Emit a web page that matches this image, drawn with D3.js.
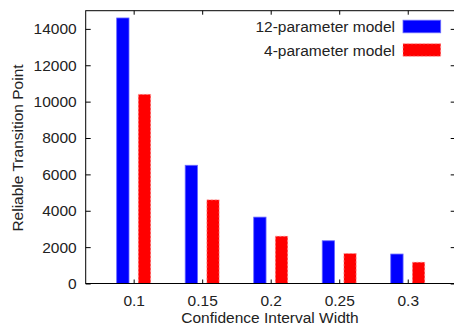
<!DOCTYPE html>
<html>
<head>
<meta charset="utf-8">
<script src="https://cdn.jsdelivr.net/npm/d3@7/dist/d3.min.js"></script>
<style>
  html, body { margin: 0; padding: 0; background: #fff; }
  svg { display: block; }
  text { font-family: "Liberation Sans", Arial, Helvetica, sans-serif; fill: #222; }
</style>
</head>
<body>
<svg id="chart" width="454" height="327"></svg>
<script>
// Confidence interval widths on the x axis
const categories = ["0.1", "0.15", "0.2", "0.25", "0.3"];
// Reliable transition point for each model
const series12 = [14600, 6500, 3650, 2350, 1620];
const series4 = [10400, 4600, 2600, 1650, 1170];
const seriesNames = ["12-parameter model", "4-parameter model"];
const yTicks = [0, 2000, 4000, 6000, 8000, 10000, 12000, 14000];

const plotLeft = 85.7, plotRight = 455.7, plotTop = 10.7, plotBottom = 283.5;
const fontSize = 15.5;

const svg = d3.select("#chart");

// Categories sit at integer positions, gnuplot-histogram style
const x = d3.scaleLinear().domain([-0.7, categories.length - 0.3]).range([plotLeft, plotRight]);
const y = d3.scaleLinear().domain([0, 15000]).range([plotBottom, plotTop]);

const barGap = 0.068, barW = 0.18;

const seriesList = [
  { name: seriesNames[0], values: series12, color: "#0000ff", x0: i => x(i - barGap - barW), x1: i => x(i - barGap) },
  { name: seriesNames[1], values: series4, color: "#ff0000", x0: i => x(i + barGap), x1: i => x(i + barGap + barW) }
];

// Bars
seriesList.forEach((s, k) => {
  const g = svg.append("g");
  g.selectAll("rect")
    .data(s.values)
    .join("rect")
    .attr("x", (d, i) => s.x0(i))
    .attr("width", (d, i) => s.x1(i) - s.x0(i))
    .attr("y", d => y(d))
    .attr("height", d => plotBottom - y(d))
    .attr("fill", s.color)
    .attr("stroke", k === 1 ? "#ff9a9a" : "#6a6aff")
    .attr("stroke-width", 0.8)
    .attr("stroke-dasharray", k === 1 ? "2,2" : null);
});

// Frame
svg.append("rect")
  .attr("x", plotLeft).attr("y", plotTop)
  .attr("width", plotRight - plotLeft).attr("height", plotBottom - plotTop)
  .attr("fill", "none").attr("stroke", "#000").attr("stroke-width", 1);

// Y axis (left) with inward ticks, mirrored on the right side
const yAxis = svg.append("g")
  .attr("transform", `translate(${plotLeft},0)`)
  .call(d3.axisLeft(y).tickValues(yTicks).tickSize(-5).tickPadding(9).tickFormat(d3.format("d")));
yAxis.select(".domain").remove();
yAxis.selectAll("text").attr("font-size", fontSize).attr("fill", "#222")
  .style("font-family", "'Liberation Sans', Arial, sans-serif");

const yAxisR = svg.append("g")
  .attr("transform", `translate(${plotRight},0)`)
  .call(d3.axisRight(y).tickValues(yTicks).tickSize(-5).tickFormat(""));
yAxisR.select(".domain").remove();

// X axis (bottom) with inward ticks, mirrored on top
const idx = categories.map((c, i) => i);
const xAxis = svg.append("g")
  .attr("transform", `translate(0,${plotBottom})`)
  .call(d3.axisBottom(x).tickValues(idx).tickSize(-4).tickPadding(11).tickFormat(i => categories[i]));
xAxis.select(".domain").remove();
xAxis.selectAll("text").attr("font-size", fontSize).attr("fill", "#222")
  .style("font-family", "'Liberation Sans', Arial, sans-serif");

const xAxisT = svg.append("g")
  .attr("transform", `translate(0,${plotTop})`)
  .call(d3.axisTop(x).tickValues(idx).tickSize(-4).tickFormat(""));
xAxisT.select(".domain").remove();

// Axis titles
svg.append("text")
  .attr("x", 270)
  .attr("y", 322.5)
  .attr("text-anchor", "middle")
  .attr("font-size", fontSize)
  .text("Confidence Interval Width");

svg.append("text")
  .attr("transform", "translate(22.5,148) rotate(-90)")
  .attr("text-anchor", "middle")
  .attr("font-size", fontSize)
  .text("Reliable Transition Point");

// Legend
const legend = svg.append("g");
seriesList.forEach((s, k) => {
  const cy = 26.5 + k * 23.5;
  legend.append("text")
    .attr("x", 395)
    .attr("y", cy + 5.5)
    .attr("text-anchor", "end")
    .attr("font-size", fontSize)
    .text(s.name);
  legend.append("rect")
    .attr("x", 403)
    .attr("y", cy - 6.3)
    .attr("width", 37.7)
    .attr("height", 12.6)
    .attr("fill", s.color)
    .attr("stroke", k === 1 ? "#ff9a9a" : "#6a6aff")
    .attr("stroke-width", 0.8)
    .attr("stroke-dasharray", k === 1 ? "2,2" : null);
});
</script>
</body>
</html>
